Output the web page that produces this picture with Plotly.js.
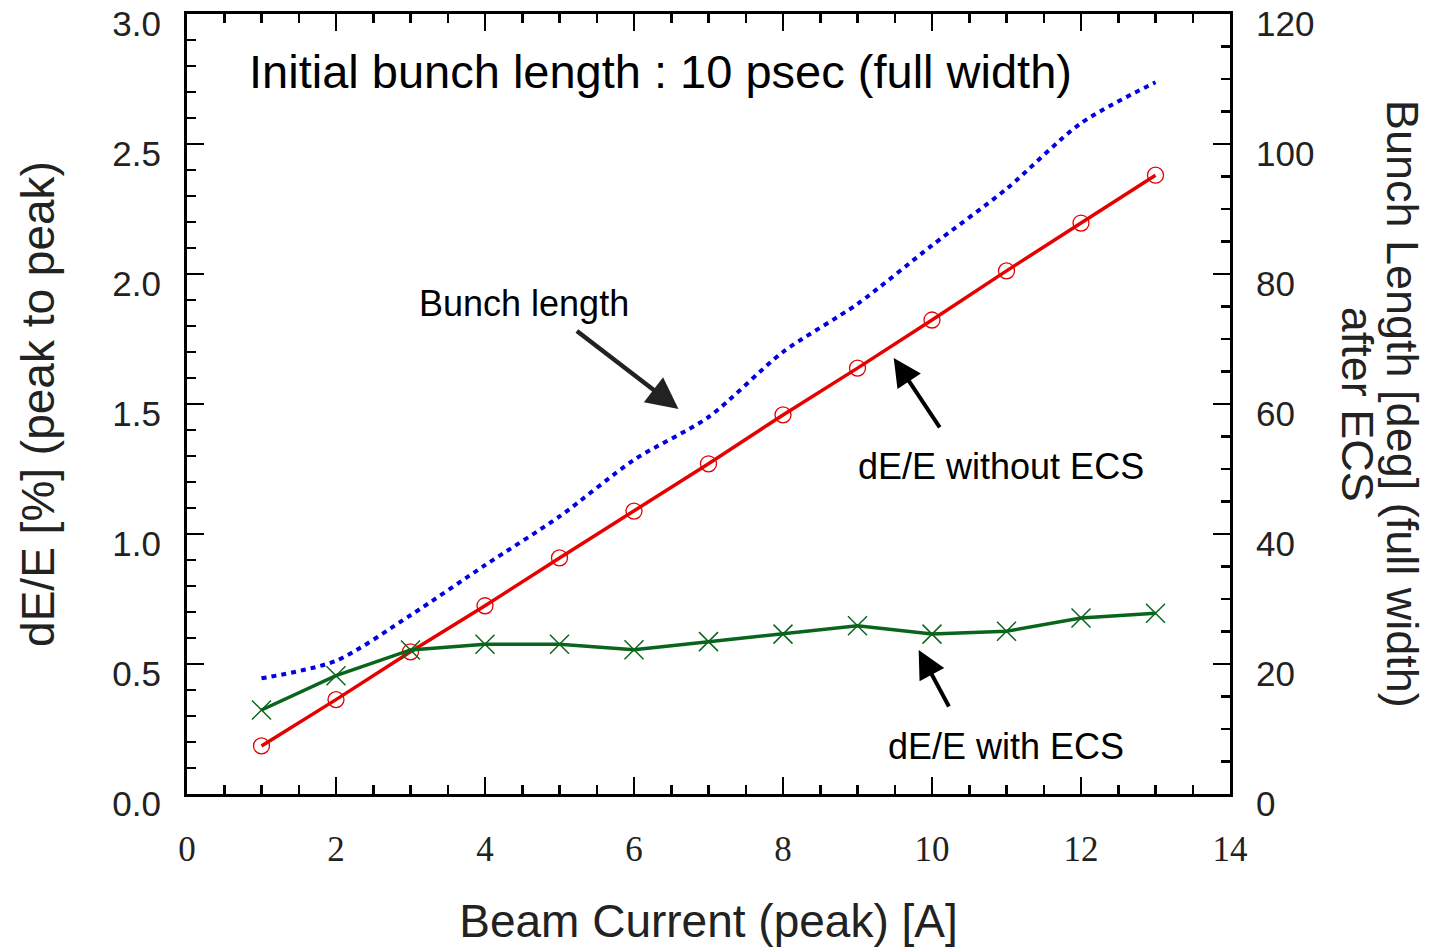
<!DOCTYPE html>
<html>
<head>
<meta charset="utf-8">
<script src="https://cdn.plot.ly/plotly-3.0.1.min.js"></script>
<style>html,body{margin:0;padding:0;background:#fff;}#chart{width:1431px;height:947px;}</style>
</head>
<body>
<div id="chart"></div>
<script>
// Beam current (peak) [A]
const current = [1, 2, 3, 4, 5, 6, 7, 8, 9, 10, 11, 12, 13];
// dE/E [%] (peak to peak) without ECS
const dEwithoutECS = [0.185, 0.363, 0.547, 0.724, 0.908, 1.088, 1.27, 1.458, 1.638, 1.823, 2.012, 2.196, 2.38];
// dE/E [%] (peak to peak) with ECS
const dEwithECS = [0.323, 0.455, 0.554, 0.576, 0.576, 0.555, 0.586, 0.615, 0.647, 0.615, 0.626, 0.677, 0.695];
// Bunch length [deg] (full width) after ECS
const bunchLength = [17.8, 20.5, 27.5, 35.2, 42.7, 51.4, 58.0, 68.0, 75.4, 84.4, 93.1, 103.2, 109.5];

const xTickVals = [0, 2, 4, 6, 8, 10, 12, 14];
const yTickVals = [0, 0.5, 1.0, 1.5, 2.0, 2.5, 3.0];
const yTickText = ['0.0', '0.5', '1.0', '1.5', '2.0', '2.5', '3.0'];
const y2TickVals = [0, 20, 40, 60, 80, 100, 120];

const SANS = 'Liberation Sans, Arial, Helvetica, sans-serif';
const SERIF = 'Liberation Serif, Times New Roman, serif';

const traces = [
  {
    x: current, y: bunchLength, yaxis: 'y2', type: 'scatter', mode: 'lines',
    line: {color: '#0000e0', width: 4, dash: '5px,5px', shape: 'spline', smoothing: 0.8},
    name: 'Bunch length', showlegend: false
  },
  {
    x: current, y: dEwithoutECS, type: 'scatter', mode: 'lines+markers',
    line: {color: '#e60000', width: 3.5},
    marker: {symbol: 'circle-open', size: 16, color: '#e60000', line: {width: 1.3, color: '#e60000'}},
    name: 'dE/E without ECS', showlegend: false
  },
  {
    x: current, y: dEwithECS, type: 'scatter', mode: 'lines+markers',
    line: {color: '#0a651c', width: 3.5},
    marker: {symbol: 'x-thin-open', size: 19, color: '#0a651c', line: {width: 1.5, color: '#0a651c'}},
    name: 'dE/E with ECS', showlegend: false
  }
];

const layout = {
  width: 1431, height: 947,
  margin: {l: 187, r: 201, t: 14, b: 153, pad: 0},
  paper_bgcolor: '#ffffff', plot_bgcolor: '#ffffff',
  showlegend: false,
  font: {family: SANS, color: '#000'},
  xaxis: {
    range: [0, 14], tickvals: xTickVals, ticktext: xTickVals.map(String),
    showgrid: false, zeroline: false,
    showline: true, linecolor: '#000', linewidth: 3, mirror: 'ticks',
    ticks: 'inside', ticklen: 17, tickwidth: 2.5, tickcolor: '#000',
    minor: {dtick: 0.5, ticks: 'inside', ticklen: 9, tickwidth: 2.5, tickcolor: '#000', showgrid: false},
    tickfont: {family: SERIF, size: 35, color: '#222'},
    ticklabelstandoff: 22,
    title: {text: 'Beam Current (peak) [A]', font: {family: SANS, size: 46, color: '#222'}, standoff: 41},
    automargin: false
  },
  yaxis: {
    range: [0, 3], tickvals: yTickVals, ticktext: yTickText,
    showgrid: false, zeroline: false,
    showline: true, linecolor: '#000', linewidth: 3, mirror: false,
    ticks: 'inside', ticklen: 17, tickwidth: 2.5, tickcolor: '#000',
    minor: {dtick: 0.1, ticks: 'inside', ticklen: 9, tickwidth: 2.5, tickcolor: '#000', showgrid: false},
    tickfont: {family: SANS, size: 35, color: '#222'},
    ticklabelstandoff: 16, ticklabelshift: 10,
    title: {text: 'dE/E [%] (peak to peak)', font: {family: SANS, size: 46, color: '#222'}, standoff: 44},
    automargin: false
  },
  yaxis2: {
    range: [0, 120], tickvals: y2TickVals, ticktext: y2TickVals.map(String),
    overlaying: 'y', side: 'right',
    showgrid: false, zeroline: false,
    showline: true, linecolor: '#000', linewidth: 3,
    ticks: 'inside', ticklen: 17, tickwidth: 2.5, tickcolor: '#000',
    minor: {dtick: 5, ticks: 'inside', ticklen: 9, tickwidth: 2.5, tickcolor: '#000', showgrid: false},
    tickfont: {family: SANS, size: 35, color: '#222'},
    ticklabelstandoff: 16, ticklabelshift: 10,
    automargin: false
  },
  annotations: [
    {xref: 'x', yref: 'y', x: 6.355, y: 2.777, text: 'Initial bunch length : 10 psec (full width)',
     showarrow: false, font: {family: SANS, size: 47, color: '#000'}, xanchor: 'center', yanchor: 'middle'},
    {xref: 'x', yref: 'y', x: 4.52, y: 1.888, text: 'Bunch length',
     showarrow: false, font: {family: SANS, size: 36, color: '#000'}, xanchor: 'center', yanchor: 'middle'},
    {xref: 'x', yref: 'y', x: 10.92, y: 1.258, text: 'dE/E without ECS',
     showarrow: false, font: {family: SANS, size: 36, color: '#000'}, xanchor: 'center', yanchor: 'middle'},
    {xref: 'x', yref: 'y', x: 10.99, y: 0.181, text: 'dE/E with ECS',
     showarrow: false, font: {family: SANS, size: 36, color: '#000'}, xanchor: 'center', yanchor: 'middle'},
    // arrows
    {xref: 'x', yref: 'y', axref: 'x', ayref: 'y', x: 6.597, y: 1.481, ax: 5.213, ay: 1.785,
     text: '', showarrow: true, arrowhead: 2, arrowsize: 1.4, arrowwidth: 4.5, arrowcolor: '#222'},
    {xref: 'x', yref: 'y', axref: 'x', ayref: 'y', x: 9.486, y: 1.677, ax: 10.117, ay: 1.404,
     text: '', showarrow: true, arrowhead: 2, arrowsize: 1.4, arrowwidth: 4, arrowcolor: '#000'},
    {xref: 'x', yref: 'y', axref: 'x', ayref: 'y', x: 9.821, y: 0.554, ax: 10.238, ay: 0.331,
     text: '', showarrow: true, arrowhead: 2, arrowsize: 1.4, arrowwidth: 4, arrowcolor: '#000'},
    // right axis title (two lines, reading top to bottom)
    {xref: 'paper', yref: 'paper', x: 1.166, y: 0.5, text: 'Bunch Length [deg] (full width)',
     textangle: 90, showarrow: false, borderpad: 0, font: {family: SANS, size: 45, color: '#222'}, xanchor: 'center', yanchor: 'middle'},
    {xref: 'paper', yref: 'paper', x: 1.123, y: 0.5, text: 'after ECS',
     textangle: 90, showarrow: false, borderpad: 0, font: {family: SANS, size: 45, color: '#222'}, xanchor: 'center', yanchor: 'middle'}
  ]
};

Plotly.newPlot('chart', traces, layout, {staticPlot: true, displayModeBar: false});
</script>
</body>
</html>
